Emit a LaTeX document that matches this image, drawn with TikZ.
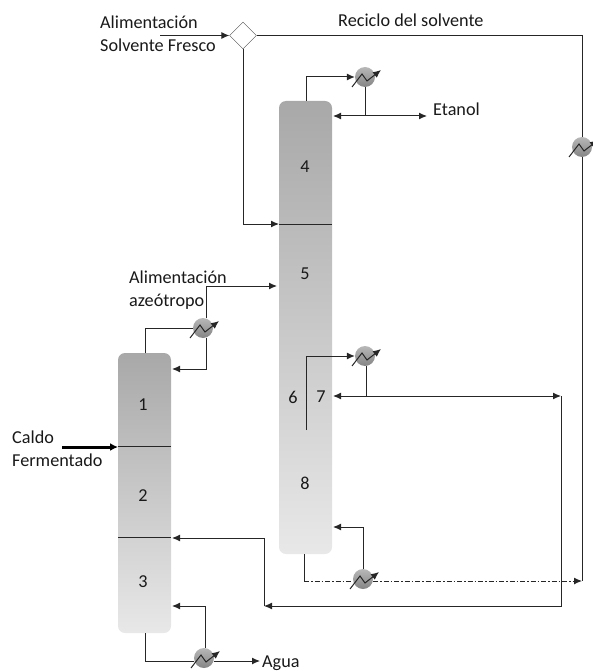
\documentclass[tikz,border=0pt]{standalone}
\usepackage{fontspec}
\setmainfont{Carlito}
\usetikzlibrary{arrows.meta,shapes.geometric}
\tikzset{
  column/.style={rounded corners=7pt,top color=black!34,bottom color=black!9,minimum width=53pt,inner sep=0pt},
  hx/.style={circle,minimum size=20pt,inner sep=0pt,top color=black!28,bottom color=black!48},
  flow/.style={draw=black!85,line width=1pt,-{Latex[length=8pt,width=7pt]}},
  pipe/.style={draw=black!85,line width=1pt},
  txt/.style={anchor=base west,inner sep=0pt,font=\fontsize{18.2}{18.2}\selectfont,text=black!90},
  num/.style={inner sep=0pt,font=\fontsize{18.2}{18.2}\selectfont,text=black!90},
}
\begin{document}
\begin{tikzpicture}[x=1pt,y=-1pt]
  \useasboundingbox (0,0) rectangle (592,671);
  % columns
  \node[column,minimum height=280pt] (cola) at (144.5,493) {};
  \node[column,minimum height=453pt] (colb) at (305.5,327.5) {};
  \node[draw=black!70,fill=white,diamond,minimum size=27pt,inner sep=0pt] (mix) at (243,35.5) {};
  % exchangers
  \node[hx] (hxa) at (203,328) {};
  \node[hx] (hxb) at (204,658) {};
  \node[hx] (hxc) at (365,77) {};
  \node[hx] (hxd) at (365,356) {};
  \node[hx] (hxe) at (363,579) {};
  \node[hx] (hxf) at (582,147) {};
  % points on the lines
  \coordinate (in) at (160,35.5);
  \coordinate (mixa) at (243,224);
  \coordinate (cbl) at (279,224);
  \coordinate (cbr) at (332,224);
  \coordinate (ca) at (582,35.5);
  \coordinate (cb) at (582,581);
  \coordinate (top) at (306,101);
  \coordinate (topa) at (306,77);
  \coordinate (refl) at (333,116);
  \coordinate (refj) at (365,116);
  \coordinate (etoh) at (427,116);
  \coordinate (aza) at (206,286);
  \coordinate (azb) at (277,286);
  \coordinate (azc) at (206,369);
  \coordinate (azd) at (172,369);
  \coordinate (cat) at (145,353);
  \coordinate (catt) at (145,328);
  \coordinate (sa) at (306,430);
  \coordinate (sb) at (306,356);
  \coordinate (ra) at (366,396);
  \coordinate (rb) at (333,396);
  \coordinate (rc) at (561,396);
  \coordinate (rd) at (561,606);
  \coordinate (re) at (264,606);
  \coordinate (rf) at (264,538);
  \coordinate (rg) at (172,538);
  \coordinate (ba) at (363,527);
  \coordinate (bb) at (333,527);
  \coordinate (bc) at (304,554);
  \coordinate (bd) at (304,581);
  \coordinate (wa) at (145,633);
  \coordinate (wb) at (145,661);
  \coordinate (wc) at (260,661);
  \coordinate (wd) at (205,606);
  \coordinate (we) at (172,606);
  \coordinate (fa) at (62,447);
  \coordinate (fb) at (118,447);
  % dividers
  \draw[pipe] (cbl) -- (cbr);
  \draw[pipe] (118,446) -- (171,446);
  \draw[pipe] (118,537) -- (171,537);
  % solvent
  \draw[flow] (in) -- (mix.west);
  \draw[flow] (mix.south) -- (mixa) -- (cbl);
  \draw[pipe] (mix.east) -- (ca) -- (hxf.north);
  \draw[pipe] (hxf.south) -- (cb);
  \draw[pipe,dash pattern=on 5pt off 2pt on 1.5pt off 2pt] (bd) -- (hxe.west |- bd);
  \draw[flow,dash pattern=on 5pt off 2pt on 1.5pt off 2pt] (hxe.east |- bd) -- (cb);
  % top of second column
  \draw[flow] (top) -- (topa) -- (hxc.west);
  \draw[flow] (hxc.south) -- (refj) -- (refl);
  \draw[flow] (refj) -- (etoh);
  % azeotrope feed and first column
  \draw[flow] (hxa.north -| aza) -- (aza) -- (azb);
  \draw[flow] (hxa.south -| azc) -- (azc) -- (azd);
  \draw[pipe] (cat) -- (catt) -- (hxa.west);
  % side stream
  \draw[flow] (sa) -- (sb) -- (hxd.west);
  \draw[flow] (hxd.south -| ra) -- (ra) -- (rb);
  \draw[flow] (ra) -- (rc);
  \draw[flow] (rc) -- (rd) -- (re);
  \draw[flow] (re) -- (rf) -- (rg);
  % bottoms
  \draw[flow] (hxe.north) -- (ba) -- (bb);
  \draw[pipe] (bc) -- (bd);
  \draw[pipe] (wa) -- (wb) -- (hxb.west |- wb);
  \draw[flow] (hxb.east |- wb) -- (wc);
  \draw[flow] (hxb.north -| wd) -- (wd) -- (we);
  \draw[draw=black,line width=3pt,-{Latex[length=8pt,width=8pt]}] (fa) -- (fb);
  % zigzag arrows
  \foreach \n in {hxa,hxb,hxc,hxd,hxe,hxf}
    \draw[black!85,line width=1pt,-{Latex[length=8pt,width=7pt]}] ([shift={(-13,10)}]\n.center) -- ([shift={(-3,-3)}]\n.center) -- ([shift={(2,4)}]\n.center) -- ([shift={(16,-7)}]\n.center);
  % labels
  \node[txt] (la) at (100,29) {Alimentación};
  \node[txt] (lb) at (100,52) {Solvente Fresco};
  \node[txt] (lc) at (338,27) {Reciclo del solvente};
  \node[txt] (ld) at (433,116) {Etanol};
  \node[txt] (le) at (129,283) {Alimentación};
  \node[txt] (lf) at (129,306) {azeótropo};
  \node[txt] (lg) at (12,443) {Caldo};
  \node[txt] (lh) at (12,466) {Fermentado};
  \node[txt] (li) at (262,667) {Agua};
  \node[num] (na) at (143,405) {1};
  \node[num] (nb) at (143,496) {2};
  \node[num] (nc) at (143,582) {3};
  \node[num] (nd) at (305,167) {4};
  \node[num] (ne) at (305,274) {5};
  \node[num] (nf) at (293,397) {6};
  \node[num] (ng) at (321,397) {7};
  \node[num] (nh) at (305,483) {8};
\end{tikzpicture}
\end{document}
